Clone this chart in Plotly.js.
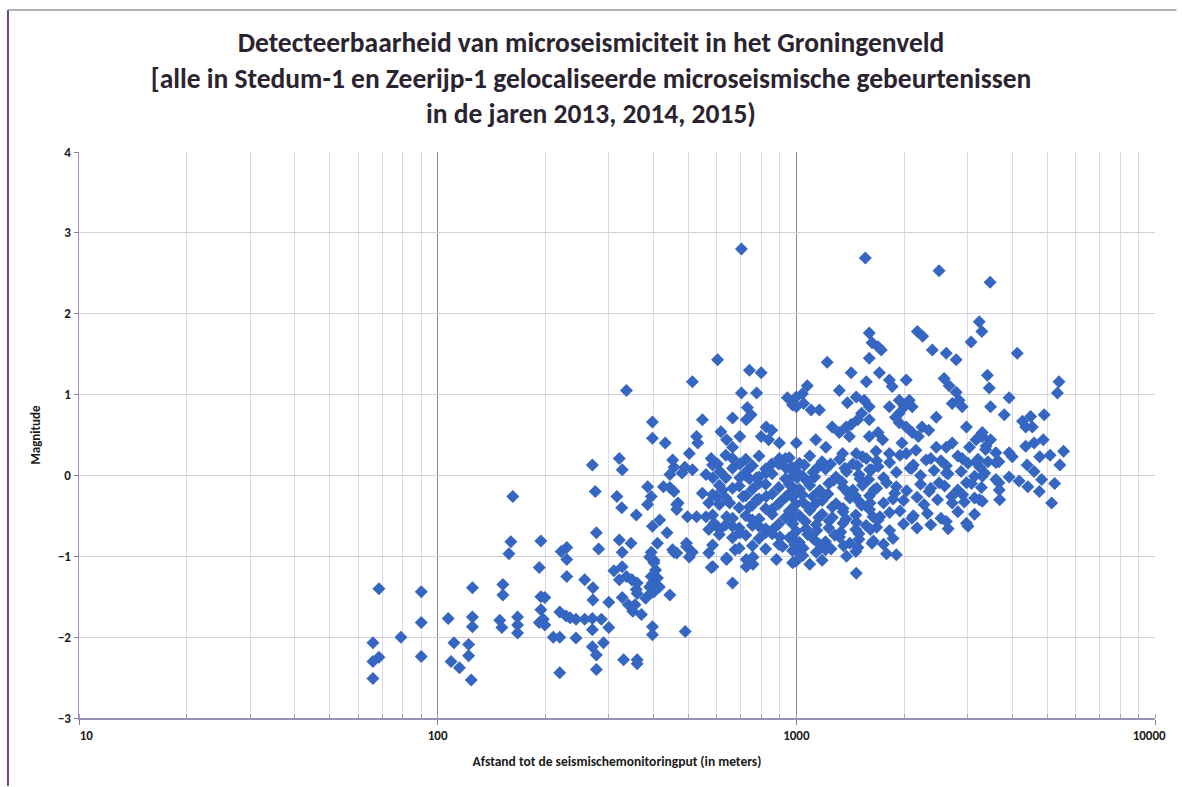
<!DOCTYPE html>
<html>
<head>
<meta charset="utf-8">
<script src="https://cdn.plot.ly/plotly-3.0.1.min.js"></script>
<style>
html,body{margin:0;padding:0;background:#fff;}
#chart{width:1182px;height:787px;}
</style>
</head>
<body>
<div id="chart"></div>
<script>
// Distance to the seismic monitoring well (m) and magnitude
const distance = [
  // < 100 m
  68.6,90,90,79,66,66,68.6,90,66,
  // 100 - 300 m
  270,275,162,277,281,160,158,194,192,221,229,229,229,257,271,271,125,152,152,194,199,194,197,199,192,
  219,228,234,243,257,270,286,210,219,243,270,270,277,277,290,219,107,125,125,111,122,122,109,115,124,149,151,167,167,167,
  // 300 - 600 m
  703,603,513,336,740,798,703,775,397,547,664,397,431,527,531,321,327,452,444,503,489,513,316,326,358,385,394,385,426,444,456,464,
  416,436,497,527,321,346,327,394,401,410,390,456,494,513,444,579,639,664,757,880,327,336,348,360,360,327,405,394,415,401,
  330,360,360,397,397,490,300,340,350,370,380,300,310,355,
  // 600 - 1000 m
  944,976,730,748,725,824,854,798,837,897,616,639,664,696,456,480,579,603,612,585,664,696,725,696,740,775,824,786,854,897,937,966,1000,
  468,464,547,570,597,622,652,560,590,612,570,639,664,696,710,740,775,824,854,897,937,976,754,787,821,860,900,976,
  397,410,390,401,452,494,503,464,570,585,639,675,725,757,725,915,976,1000,348,321,358,397,394,
  636,723,787,932, 584,664,754,821,893,972, 560,636,723,787,856,932, 610,664,693,754,821,893,972,
  584,636,723,787,856,932, 610,693,754,821,893, 584,664,723,787,856,932, 636,693,754,821,893,
  610,664,723,787,856,972, 584,693,754,821,893,
  // 1000 - 3500 m dense band
  956,1020,1090,1180,1320,1437,1530,1675,1820,1945,2120,2370,2530,2820,3010,3210,3420,
  976,1042,1113,1206,1290,1380,1495,1600,1750,1900,2075,2220,2420,2650,2880,3140,3350,
  956,1020,1090,1160,1232,1350,1437,1530,1675,1785,1900,2030,2220,2370,2590,2820,3080,3280,
  976,1042,1113,1180,1290,1410,1495,1600,1750,1860,1990,2170,2270,2475,2710,2940,3140,
  956,1020,1090,1180,1260,1350,1465,1600,1710,1820,1945,2120,2320,2530,2820,3140,
  976,1065,1137,1232,1350,1465,1565,1675,1820,1990,2170,2370,2650,3010,
  956,1020,1113,1206,1320,1410,1495,1640,1750,1860,
  976,1042,1137,1206,1380,1465,1785,1900,
  997,1090,1180,1469,
  986,1053,1148,1246,1365,1480,1620, 1005,1070,1125,1270,1340,1505,1590, 970,1040,1165,1225,1390,1460,1645,
  995,1085,1130,1260,1350,1520,1605, 980,1060,1155,1235,1375,1470,1635, 1000,1075,1140,1280,1330,1495,1610,
  990,1045,1160,1250,1355,1485,1625,
  1690,2100,2620,3250, 1880,2345,2910, 1690,2100,2620,
  // 1000 - 3500 m upper part
  3236,3290,3070,2175,2250,1597,1626,1690,1725,1597,1219,2394,2618,2791,1422,1567,1704,1817,2025,1850,2583,2667,2791,2843,2721,2900,
  1073,1040,1318,1388,1469,1546,1597,1520,1482,1597,1422,1817,1936,2000,2065,2104,1936,2455,1000,1000,1048,1100,1160,1259,1318,1377,1406,
  1597,1690,1740,1890,1936,2025,2104,2188,2240,2340,1000,1133,1209,1346,1469,1567,1668,1817,1970,2025,2155,2300,2455,2618,2721,2900,3040,3170,3300,3480,
  1557,2500,3470,
  2980,3240,3370,3600,3170,2980,3240,2980,3670,4000,3920,2720,2500,2620,
  // > 3500 m
  4130,3410,3450,5400,5345,3480,3920,3800,4270,4500,4910,4360,4550,3300,3380,3600,3920,3670,4360,4600,4880,4770,5100,5560,5430,4400,4600,4830,
  3300,3600,3680,4180,4420,4760,5250,3300,3690,5150
];
const magnitude = [
  -1.40,-1.44,-1.82,-2.0,-2.07,-2.30,-2.25,-2.24,-2.51,
  0.13,-0.20,-0.26,-0.71,-0.91,-0.82,-0.97,-0.81,-1.14,-0.94,-0.89,-1.04,-1.25,-1.29,-1.39,-1.54,-1.39,-1.35,-1.48,-1.50,-1.51,-1.66,-1.78,-1.85,-1.82,
  -1.69,-1.74,-1.76,-1.78,-1.78,-1.77,-1.78,-2.0,-2.0,-2.01,-1.91,-2.12,-2.22,-2.40,-2.07,-2.44,-1.77,-1.75,-1.87,-2.07,-2.09,-2.23,-2.30,-2.38,-2.53,-1.79,-1.88,-1.75,-1.85,-1.95,
  2.80,1.43,1.16,1.05,1.30,1.27,1.02,1.02,0.66,0.69,0.71,0.46,0.40,0.48,0.40,0.21,0.07,0.19,0.01,0.27,0.10,0.07,-0.26,-0.40,-0.49,-0.14,-0.26,-0.36,-0.14,-0.15,-0.20,-0.36,
  -0.55,-0.71,-0.51,-0.51,-0.80,-0.84,-0.95,-0.95,-1.05,-1.27,-1.38,-0.95,-0.84,-0.95,-1.48,-1.14,-1.02,-1.33,-1.10,-1.04,-1.13,-1.25,-1.29,-1.33,-1.46,-1.51,-1.17,-1.25,-1.38,-1.44,
  -2.28,-2.28,-2.33,-1.87,-1.97,-1.93,-1.88,-1.60,-1.68,-1.72,-1.52,-1.57,-1.18,-1.60,
  0.96,0.87,0.84,0.75,0.69,0.60,0.56,0.48,0.44,0.40,0.54,0.44,0.35,0.48,0.10,0.03,0.21,0.14,0.05,-0.03,0.21,0.14,0.05,-0.03,-0.04,-0.03,0.03,-0.10,0.14,0.21,0.09,-0.03,0.05,
  -0.34,-0.42,-0.22,-0.34,-0.26,-0.18,-0.34,-0.51,-0.59,-0.67,-0.67,-0.51,-0.63,-0.71,-0.26,-0.39,-0.30,-0.26,-0.42,-0.34,-0.26,-0.42,-0.55,-0.63,-0.71,-0.67,-0.76,-0.59,
  -0.63,-0.84,-1.01,-1.08,-0.92,-0.88,-1.01,-0.96,-0.96,-1.13,-1.04,-0.92,-1.04,-1.01,-1.13,-0.88,-1.08,-0.92,-1.29,-1.29,-1.41,-1.33,-1.45,
  0.25,0.20,0.24,0.21, 0.13,0.09,0.12,0.08,0.14,0.10, 0.01,-0.03,0.00,-0.02,0.02,-0.04, -0.12,-0.16,-0.13,-0.17,-0.11,-0.15,-0.14,
  -0.24,-0.28,-0.25,-0.29,-0.23,-0.27, -0.36,-0.40,-0.37,-0.41,-0.35, -0.49,-0.53,-0.50,-0.54,-0.48,-0.52, -0.61,-0.65,-0.62,-0.66,-0.60,
  -0.73,-0.77,-0.74,-0.78,-0.72,-0.76, -0.86,-0.90,-0.87,-0.91,-0.85,
  0.22,0.15,0.24,0.17,0.20,0.14,0.23,0.18,0.16,0.25,0.13,0.21,0.18,0.24,0.15,0.20,0.17,
  0.06,-0.01,0.04,0.08,-0.02,0.05,0.01,0.07,-0.03,0.04,0.09,0.00,0.06,0.02,0.05,-0.01,0.03,
  -0.11,-0.17,-0.12,-0.19,-0.10,-0.15,-0.18,-0.12,-0.16,-0.09,-0.14,-0.19,-0.11,-0.16,-0.13,-0.18,-0.10,-0.15,
  -0.27,-0.33,-0.26,-0.31,-0.35,-0.28,-0.32,-0.25,-0.34,-0.29,-0.31,-0.27,-0.36,-0.30,-0.26,-0.33,-0.28,
  -0.44,-0.50,-0.43,-0.48,-0.52,-0.45,-0.49,-0.42,-0.51,-0.46,-0.44,-0.50,-0.47,-0.53,-0.45,-0.48,
  -0.60,-0.66,-0.61,-0.65,-0.59,-0.67,-0.62,-0.64,-0.68,-0.60,-0.65,-0.61,-0.66,-0.63,
  -0.77,-0.83,-0.78,-0.82,-0.76,-0.84,-0.79,-0.81,-0.85,-0.78,
  -0.93,-0.99,-0.95,-0.92,-1.00,-0.94,-0.97,-0.98,
  -1.06,-1.10,-1.05,-1.21,
  0.08,0.13,0.10,0.14,0.09,0.12,0.07, -0.03,-0.07,-0.02,-0.06,-0.08,-0.04,-0.05, -0.20,-0.24,-0.19,-0.23,-0.21,-0.25,-0.18,
  -0.36,-0.40,-0.35,-0.39,-0.41,-0.37,-0.34, -0.53,-0.57,-0.52,-0.56,-0.54,-0.58,-0.51, -0.69,-0.73,-0.68,-0.74,-0.70,-0.72,-0.67,
  -0.86,-0.90,-0.85,-0.91,-0.87,-0.89,-0.84,
  0.11,0.09,0.12,0.10, -0.22,-0.20,-0.24, -0.55,-0.53,-0.57,
  1.90,1.78,1.65,1.78,1.72,1.76,1.64,1.59,1.55,1.45,1.40,1.55,1.51,1.43,1.27,1.16,1.27,1.18,1.18,1.10,1.20,1.11,1.03,0.93,0.89,0.85,
  1.11,1.01,1.05,0.90,0.97,0.93,0.85,0.77,0.69,0.69,0.63,0.85,0.93,0.85,0.93,0.85,0.77,0.72,0.97,0.85,0.89,0.81,0.81,0.60,0.53,0.60,0.48,
  0.48,0.53,0.44,0.72,0.65,0.60,0.53,0.48,0.60,0.56,0.40,0.44,0.35,0.27,0.27,0.21,0.30,0.27,0.40,0.27,0.31,0.19,0.35,0.35,0.40,0.21,0.35,0.44,0.53,0.44,
  2.69,2.53,2.39,
  0.60,0.48,0.32,0.16,0.16,-0.09,-0.30,-0.59,-0.09,0.23,-0.02,-0.34,-0.09,0.03,
  1.51,1.24,1.08,1.16,1.02,0.85,0.96,0.75,0.67,0.73,0.75,0.60,0.60,0.48,0.36,0.28,0.28,0.17,0.36,0.40,0.44,0.23,0.25,0.30,0.13,0.13,0.05,-0.05,
  -0.01,-0.05,-0.18,-0.07,-0.14,-0.20,-0.10,-0.32,-0.30,-0.34
];
const xTickVals = [10, 100, 1000, 10000];
const xTickText = ['\u00a0\u00a0\u00a0\u00a0\u00a010', '100', '1000', '10000\u00a0\u00a0\u00a0\u00a0'];
const yTickVals = [-3, -2, -1, 0, 1, 2, 3, 4];

const n = Math.min(distance.length, magnitude.length);
const trace = {
  type: 'scatter', mode: 'markers',
  x: distance.slice(0, n), y: magnitude.slice(0, n),
  marker: {symbol: 'diamond', size: 10, color: '#3566c2', line: {width: 0}},
  hoverinfo: 'x+y'
};

const fam = 'Carlito, "Liberation Sans Narrow", "Liberation Sans", Arial, sans-serif';
const tickFont = {family: fam, size: 13, color: '#1a1a1a', weight: 700};

const layout = {
  width: 1182, height: 787,
  paper_bgcolor: '#ffffff', plot_bgcolor: '#ffffff',
  margin: {l: 79, r: 27, t: 152, b: 69},
  showlegend: false,
  title: {
    text: 'Detecteerbaarheid van microseismiciteit in het Groningenveld<br>[alle in Stedum-1 en Zeerijp-1 gelocaliseerde microseismische gebeurtenissen<br>in de jaren 2013, 2014, 2015)',
    font: {family: fam, size: 27.5, color: '#2b2430', weight: 700},
    x: 0.5, xanchor: 'center', y: 0.934, yanchor: 'top'
  },
  xaxis: {
    type: 'log', range: [1, 4],
    tickvals: xTickVals, ticktext: xTickText,
    tickfont: tickFont, ticklabeloverflow: 'allow',
    ticks: 'outside', ticklen: 5, tickcolor: '#8a7c9a',
    showgrid: true, gridcolor: '#8f8298', gridwidth: 1,
    minor: {dtick: 'D1', showgrid: true, gridcolor: '#dcd8e6', gridwidth: 1, ticks: 'inside', ticklen: 4, tickcolor: '#a89fb8'},
    showline: true, linecolor: '#9b8fb4', linewidth: 1.5,
    zeroline: false,
    title: {text: 'Afstand tot de seismischemonitoringput (in meters)', font: {family: fam, size: 13.5, color: '#1a1a1a', weight: 700}, standoff: 14}
  },
  yaxis: {
    range: [-3, 4],
    tickvals: yTickVals,
    tickfont: tickFont,
    ticks: 'outside', ticklen: 4, tickcolor: '#8a7c9a',
    showgrid: true, gridcolor: '#d3cfdd', gridwidth: 1,
    showline: true, linecolor: '#9b8fd4', linewidth: 1.5,
    zeroline: false,
    title: {text: 'Magnitude', font: {family: fam, size: 13, color: '#1a1a1a', weight: 700}, standoff: 14}
  },
  shapes: [
    {type: 'line', xref: 'paper', yref: 'paper', x0: -0.066, x1: -0.066, y0: -0.12, y1: 1.251, line: {color: '#6d4a7a', width: 2}},
    {type: 'line', xref: 'paper', yref: 'paper', x0: -0.066, x1: 1.02, y0: 1.251, y1: 1.251, line: {color: '#9c98a4', width: 1.5}}
  ]
};

Plotly.newPlot('chart', [trace], layout, {displayModeBar: false, staticPlot: true});
</script>
</body>
</html>
